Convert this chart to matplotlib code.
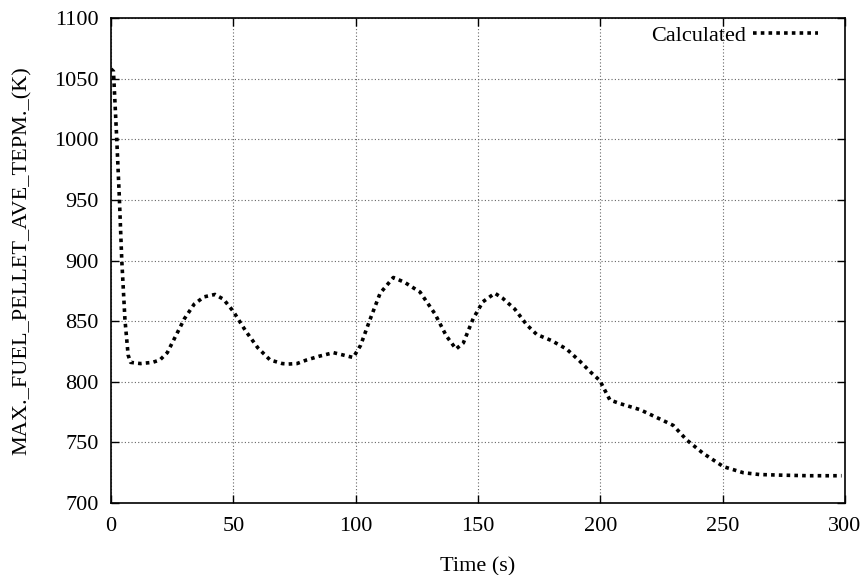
import matplotlib.pyplot as plt

# values
time_s = [0, 1, 2.3, 3.4, 4.4, 5.7, 7, 8, 12, 17, 20, 23, 26, 30, 34, 38, 42.5, 46, 50, 55, 60,
          65, 70, 72.5, 76, 80, 85, 90.9, 95, 99, 102, 105.8, 110, 115.4, 120, 126.3, 132.4,
          137, 141, 144, 148, 152, 156.9, 160, 165, 169.9, 174, 180, 186.2, 191.6, 196,
          199.8, 203.9, 208, 216.2, 225.7, 229.8, 235.3, 242, 250.3, 258.4, 265, 273.4,
          285, 298.6]
temp_k = [1058, 1056, 1002, 952, 900, 851, 822, 816, 815, 816, 818, 824, 836, 852, 864, 870, 872,
          868, 858, 842, 828, 818, 815, 814.6, 815, 818, 821, 824, 822, 820, 830, 851, 873,
          886, 882, 874, 856, 838, 827, 832, 852, 866, 873, 869, 860, 847, 839, 834, 827,
          817, 808, 801, 785, 782, 777, 768, 764, 752, 741, 730, 725, 723.5, 723, 722.5, 722.5]

plt.rcParams['font.family'] = ['Liberation Serif', 'DejaVu Serif']
plt.rcParams['font.size'] = 16

fig = plt.figure(figsize=(8.68, 5.75), dpi=100)
ax = fig.add_axes([0.1279, 0.1252, 0.8456, 0.8435])

ax.plot(time_s, temp_k, color='black', lw=2.6, linestyle=(0, (1, 1.15)),
        label='Calculated')

ax.set_xlim(0, 300)
ax.set_ylim(700, 1100)
ax.set_xticks(range(0, 301, 50))
ax.set_yticks(range(700, 1101, 50))
ax.grid(True, color='#666666', linestyle=(0, (1, 2)), lw=0.8)
ax.tick_params(direction='in', length=6, width=1, top=True, right=True)
ax.tick_params(axis='x', pad=10)
ax.tick_params(axis='y', pad=9)
for s in ax.spines.values():
    s.set_linewidth(1.2)

ax.set_xlabel('Time (s)', va='center')
ax.set_ylabel('MAX._FUEL_PELLET_AVE_TEPM._(K)', va='center')
ax.xaxis.set_label_coords(0.5, -0.132)
ax.yaxis.set_label_coords(-0.121, 0.5)

ax.legend(loc='center right', bbox_to_anchor=(0.963, 0.963), frameon=False,
          markerfirst=False, handlelength=2.9, handletextpad=0.35,
          borderpad=0, borderaxespad=0)

fig.savefig('out.png')
